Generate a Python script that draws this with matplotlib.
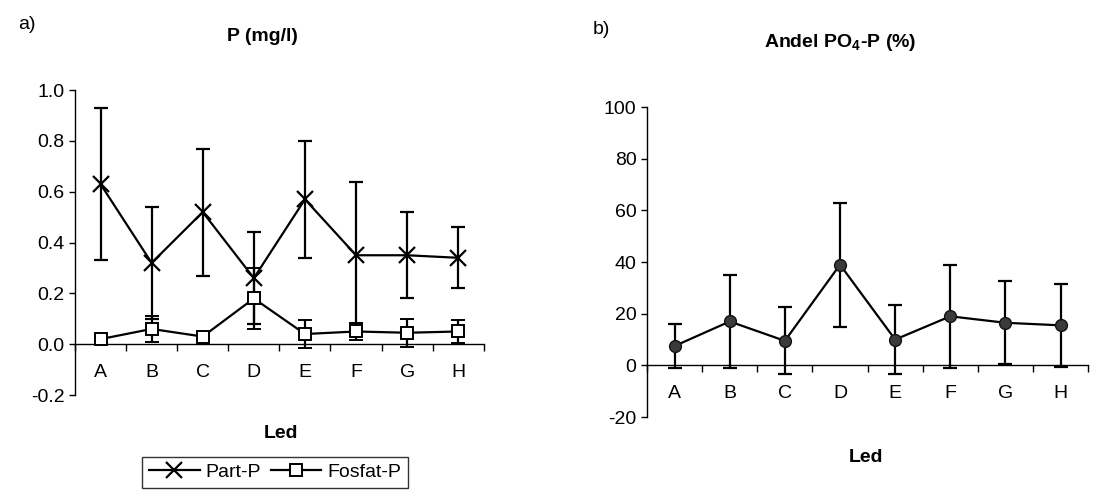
import matplotlib.pyplot as plt
from matplotlib.lines import Line2D

plt.rcParams['font.family'] = ['Liberation Sans', 'DejaVu Sans']
plt.rcParams['mathtext.fontset'] = 'custom'
plt.rcParams['mathtext.rm'] = 'Liberation Sans'
plt.rcParams['mathtext.bf'] = 'Liberation Sans:bold'
plt.rcParams['axes.unicode_minus'] = False

# data
led = ["A", "B", "C", "D", "E", "F", "G", "H"]
part_p = [0.63, 0.32, 0.52, 0.26, 0.57, 0.35, 0.35, 0.34]
part_p_err = [0.30, 0.22, 0.25, 0.18, 0.23, 0.29, 0.17, 0.12]
fosfat_p = [0.02, 0.06, 0.03, 0.18, 0.04, 0.05, 0.045, 0.05]
fosfat_p_err = [0.01, 0.05, 0.01, 0.12, 0.055, 0.035, 0.055, 0.045]
andel = [7.5, 17, 9.5, 39, 10, 19, 16.5, 15.5]
andel_err = [8.5, 18, 13, 24, 13.5, 20, 16, 16]

fig = plt.figure(figsize=(11.14, 4.91), dpi=100)
ax1 = fig.add_axes([0.0673, 0.1955, 0.367, 0.621])
ax2 = fig.add_axes([0.5808, 0.1507, 0.396, 0.631])

x = list(range(len(led)))

def style_axis(ax):
    ax.spines['top'].set_visible(False)
    ax.spines['right'].set_visible(False)
    ax.spines['bottom'].set_position(('data', 0))
    ax.spines['bottom'].set_linewidth(1.0)
    ax.spines['left'].set_linewidth(1.0)
    ax.set_xlim(-0.5, len(led) - 0.5)
    ax.set_xticks(x)
    ax.set_xticklabels(led)
    ax.set_xticks([i - 0.5 for i in range(len(led) + 1)], minor=True)
    ax.tick_params(axis='x', which='major', length=0, pad=14, labelsize=14)
    ax.tick_params(axis='x', which='minor', length=5, direction='out', width=1)
    ax.tick_params(axis='y', length=4, width=1, labelsize=14)
    ax.set_facecolor('none')

# a) P (mg/l)
ax1.errorbar(x, part_p, yerr=part_p_err, color='black', lw=1.6, capsize=5,
             capthick=1.6, marker='x', ms=11, mew=1.6, zorder=3)
ax1.errorbar(x, fosfat_p, yerr=fosfat_p_err, color='black', lw=1.6, capsize=5,
             capthick=1.6, marker='s', ms=8, mfc='white', mew=1.4, zorder=4)
ax1.set_ylim(-0.2, 1.0)
ax1.set_yticks([-0.2, 0.0, 0.2, 0.4, 0.6, 0.8, 1.0])
ax1.set_yticklabels(['-0.2', '0.0', '0.2', '0.4', '0.6', '0.8', '1.0'])
style_axis(ax1)

# b) Andel PO4-P (%)
ax2.errorbar(x, andel, yerr=andel_err, color='black', lw=1.6, capsize=5,
             capthick=1.6, marker='o', ms=8.5, mfc='#3a3a3a', mec='#111111', zorder=3)
ax2.set_ylim(-20, 100)
ax2.set_yticks([-20, 0, 20, 40, 60, 80, 100])
style_axis(ax2)

# titles and labels
fig.text(0.016, 0.95, 'a)', fontsize=14, ha='left', va='center')
fig.text(0.532, 0.94, 'b)', fontsize=14, ha='left', va='center')
fig.text(0.236, 0.925, 'P (mg/l)', fontsize=14, fontweight='bold', ha='center', va='center')
fig.text(0.754, 0.914, r'Andel PO$_\mathbf{4}$-P (%)', fontsize=14, fontweight='bold',
         ha='center', va='center')
fig.text(0.252, 0.118, 'Led', fontsize=14, fontweight='bold', ha='center', va='center')
fig.text(0.777, 0.069, 'Led', fontsize=14, fontweight='bold', ha='center', va='center')

handles = [Line2D([], [], color='black', lw=1.6, marker='x', ms=11, mew=1.6),
           Line2D([], [], color='black', lw=1.6, marker='s', ms=8, mfc='white', mew=1.4)]
leg = fig.legend(handles, ['Part-P', 'Fosfat-P'], loc='upper center',
                 bbox_to_anchor=(0.247, 0.09), ncol=2, fontsize=14, frameon=True,
                 fancybox=False, edgecolor='black', handlelength=2.6,
                 columnspacing=0.5, handletextpad=0.3, borderpad=0.35)
leg.get_frame().set_linewidth(1.0)

fig.savefig('out.png', dpi=100)
